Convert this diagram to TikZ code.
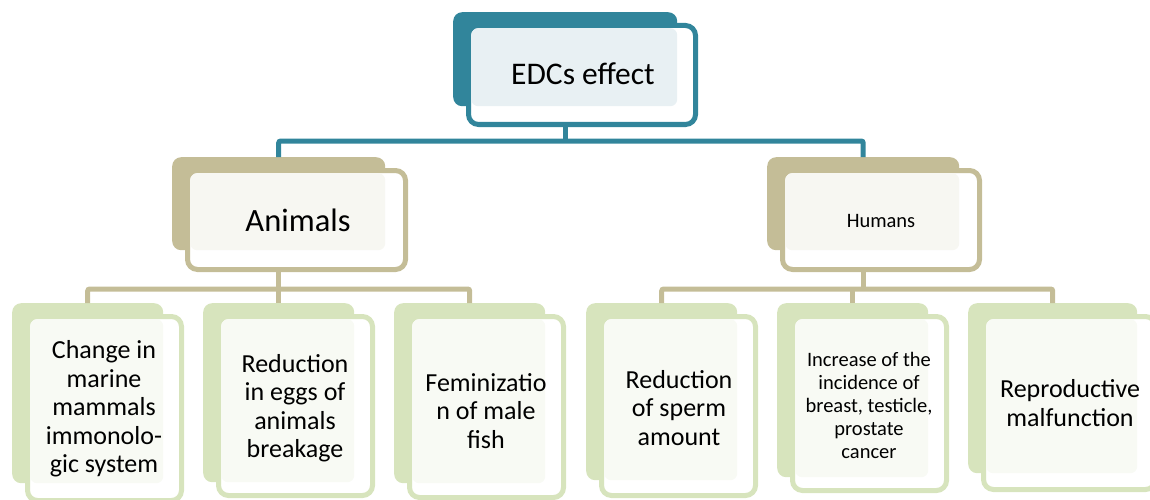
\documentclass[tikz,border=0pt]{standalone}
\usepackage{fontspec}
\setmainfont{Carlito}
\usepackage{tikz}
\usetikzlibrary{positioning}

\definecolor{tealdark}{HTML}{31859B}
\definecolor{teallight}{HTML}{E8F0F3}
\definecolor{tan}{HTML}{C4BD97}
\definecolor{tanlight}{HTML}{F7F7F2}
\definecolor{leafgreen}{HTML}{D7E4BD}
\definecolor{leaflight}{HTML}{F8FAF4}

% back plate, open frame and the shaded part where both overlap
\newcommand{\orgbox}[9]{%
  \node[back=#2, minimum width=#6pt, minimum height=#7pt] (#1-back) at (#4,#5) {};
  \node[frame=#2, minimum width=#6pt+#8pt-18pt, minimum height=#7pt+#9pt-16pt] (#1-frame) at (#4+13,#5+11) {};
  \node[shade=#3, minimum width=#6pt-18pt, minimum height=#7pt-16pt] (#1-fill) at (#4+18,#5+16) {};
}

\begin{document}
\begin{tikzpicture}[x=1pt,y=-1pt,
  back/.style={fill=#1, rounded corners=9pt, anchor=north west, inner sep=0pt},
  frame/.style={draw=#1, line width=5pt, fill=white, rounded corners=10pt, anchor=north west, inner sep=0pt},
  shade/.style={fill=#1, rounded corners=7pt, anchor=north west, inner sep=0pt},
  link/.style={draw=#1, line width=5pt, rounded corners=2pt},
  lbl/.style={align=center, inner sep=0pt, font=\fontsize{26}{28.5}\selectfont}]
  \useasboundingbox (0,0) rectangle (1150,500);

  \orgbox{top}{tealdark}{teallight}{453}{12}{224}{94}{21}{21}
  \orgbox{animals}{tan}{tanlight}{172}{157}{213}{93}{23}{22}
  \orgbox{humans}{tan}{tanlight}{767}{157}{192}{93}{23}{22}
  \orgbox{leaf1}{leafgreen}{leaflight}{12}{303}{151}{180}{21}{20}
  \orgbox{leaf2}{leafgreen}{leaflight}{203}{303}{151}{179}{21}{16}
  \orgbox{leaf3}{leafgreen}{leaflight}{394}{303}{151}{180}{21}{17}
  \orgbox{leaf4}{leafgreen}{leaflight}{586}{303}{151}{177}{21}{18}
  \orgbox{leaf5}{leafgreen}{leaflight}{777}{303}{151}{174}{21}{16}
  \orgbox{leaf6}{leafgreen}{leaflight}{968}{303}{169}{170}{21}{19}

  \node[lbl, font=\fontsize{31.5}{37}\selectfont] (edcs) at (583,74) {EDCs effect};
  \node[lbl, font=\fontsize{32.5}{38}\selectfont] (animals) at (298,220) {Animals};
  \node[lbl, font=\fontsize{20.5}{24}\selectfont] (humans) at (881,221) {Humans};
  \node[lbl] (immuno) at (104,409) {Change in\\marine\\mammals\\immonolo-\\gic system};
  \node[lbl] (eggs) at (295,408) {Reduction\\in eggs of\\animals\\breakage};
  \node[lbl] (fish) at (486,411) {Feminizatio\\n of male\\fish};
  \node[lbl] (sperm) at (679,408) {Reduction\\of sperm\\amount};
  \node[lbl, font=\fontsize{20.5}{23}\selectfont] (cancer) at (869,405) {Increase of the\\incidence of\\breast, testicle,\\prostate\\cancer};
  \node[lbl] (repro) at (1070,403) {Reproductive\\malfunction};

  \coordinate (top-bus) at (565,141);
  \coordinate (animals-bus) at (278.5,289);
  \coordinate (humans-bus) at (863,289);
  \draw[link=tealdark] (top-bus |- top-frame.south) -- (top-bus);
  \draw[link=tealdark] (animals-back.north) |- (top-bus) -| (humans-back.north);
  \draw[link=tan] (animals-bus |- animals-frame.south) -- (animals-bus);
  \draw[link=tan] (leaf1-back.north) |- (animals-bus) -| (leaf3-back.north);
  \draw[link=tan] (leaf2-back.north) -- (leaf2-back.north |- animals-bus);
  \draw[link=tan] (humans-bus |- humans-frame.south) -- (humans-bus);
  \draw[link=tan] (leaf4-back.north) |- (humans-bus) -| (leaf6-back.north);
  \draw[link=tan] (leaf5-back.north) -- (leaf5-back.north |- humans-bus);
\end{tikzpicture}
\end{document}
